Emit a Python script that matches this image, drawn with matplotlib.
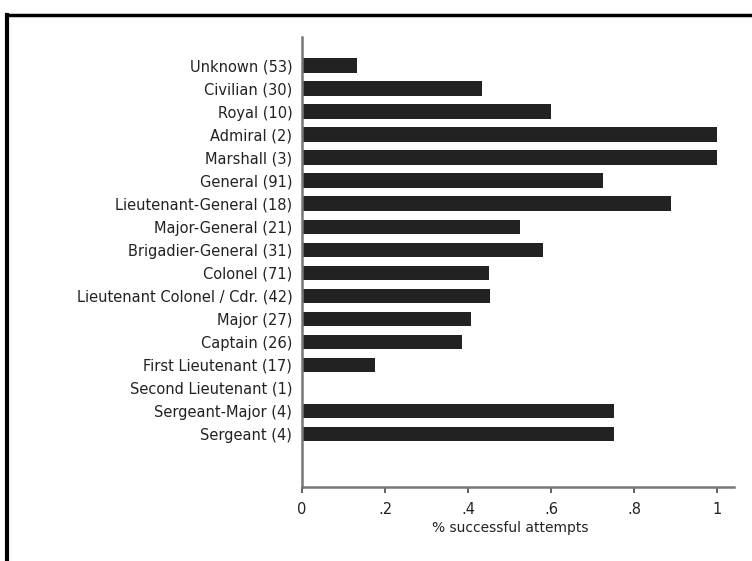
import matplotlib
matplotlib.use("Agg")
import matplotlib.pyplot as plt
from matplotlib.lines import Line2D
import numpy as np

plt.rcParams['font.family'] = ['DejaVu Sans']

# rank labels, top to bottom
ranks = ["Unknown (53)", "Civilian (30)", "Royal (10)", "Admiral (2)", "Marshall (3)",
         "General (91)", "Lieutenant-General (18)", "Major-General (21)",
         "Brigadier-General (31)", "Colonel (71)", "Lieutenant Colonel / Cdr. (42)",
         "Major (27)", "Captain (26)", "First Lieutenant (17)", "Second Lieutenant (1)",
         "Sergeant-Major (4)", "Sergeant (4)"]
success = [0.132, 0.433, 0.6, 1.0, 1.0, 0.725, 0.889, 0.524, 0.581, 0.451, 0.452,
           0.407, 0.385, 0.176, 0.0, 0.75, 0.75]
xticks = [0, 0.2, 0.4, 0.6, 0.8, 1.0]
xticklabels = ["0", ".2", ".4", ".6", ".8", "1"]

fig = plt.figure(figsize=(7.52, 5.61), dpi=100)
ax = fig.add_axes([302/752, 1 - 487/561, (734 - 302)/752, (487 - 37)/561])

ypos = np.arange(len(ranks))
ax.barh(ypos, success, height=0.63, color="#222222", edgecolor="none")
ax.set_ylim(len(ranks) - 1 + 2.3, -1.24)
ax.set_xlim(0, 1.04)

ax.set_yticks(ypos)
ax.set_yticklabels(ranks, fontsize=10.5, color="#222222")
ax.tick_params(axis='y', length=0, pad=7)
ax.set_xticks(xticks)
ax.set_xticklabels(xticklabels, fontsize=10.5, color="#222222")
ax.tick_params(axis='x', length=4, width=1.2, color="#444444", pad=7)
ax.set_xlabel("% successful attempts", fontsize=10, color="#222222")
ax.xaxis.set_label_coords((510 - 302) / 432, -0.075)

for s in ["top", "right"]:
    ax.spines[s].set_visible(False)
for s in ["left", "bottom"]:
    ax.spines[s].set_color("#777777")
    ax.spines[s].set_linewidth(1.8)

# black frame on the left and top edges
fig.add_artist(Line2D([7/752, 1], [1 - 15/561, 1 - 15/561], color="black", lw=2.5,
                      transform=fig.transFigure))
fig.add_artist(Line2D([7/752, 7/752], [0, 1 - 15/561], color="black", lw=3,
                      transform=fig.transFigure))

fig.savefig("out.png", dpi=100)
